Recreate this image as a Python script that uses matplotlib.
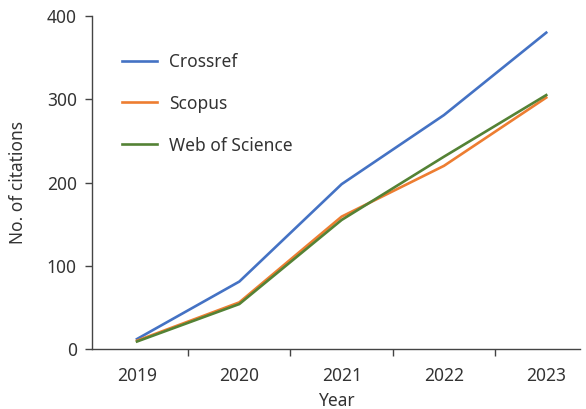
import matplotlib
matplotlib.use("Agg")
import matplotlib.pyplot as plt
from matplotlib.ticker import FixedLocator

years = ["2019", "2020", "2021", "2022", "2023"]
crossref = [12, 81, 198, 281, 380]
scopus = [10, 56, 159, 220, 302]
wos = [9, 54, 155, 231, 305]

plt.rcParams['font.family'] = ['Noto Sans', 'DejaVu Sans']
txt = '#333333'
fs = 12.5

fig = plt.figure(figsize=(5.86, 4.09), dpi=100)
ax = fig.add_axes([92/586, 60/409, (580-92)/586, (349-16)/409])

x = list(range(len(years)))
ax.plot(x, crossref, color='#4472C4', lw=1.9, label='Crossref')
ax.plot(x, scopus, color='#ED7D31', lw=1.9, label='Scopus')
ax.plot(x, wos, color='#548235', lw=1.9, label='Web of Science')

ax.set_xlim(-0.44, 4.33)
ax.set_ylim(0, 400)
ax.set_yticks([0, 100, 200, 300, 400])
ax.set_xticks(x)
ax.set_xticklabels(years)
ax.xaxis.set_minor_locator(FixedLocator([0.5, 1.5, 2.5, 3.5]))
ax.tick_params(axis='x', which='major', length=0, pad=13, labelsize=fs, colors=txt)
ax.tick_params(axis='x', which='minor', length=5, width=1, color='#444444')
ax.tick_params(axis='y', length=5, width=1, labelsize=fs, colors=txt, color='#444444', pad=6)
for s in ['top', 'right']:
    ax.spines[s].set_visible(False)
for s in ['left', 'bottom']:
    ax.spines[s].set_color('#444444')
    ax.spines[s].set_linewidth(1)

ax.set_xlabel('Year', fontsize=fs, color=txt, labelpad=5)
ax.set_ylabel('No. of citations', fontsize=fs, color=txt, labelpad=14)

leg = ax.legend(loc='upper left', bbox_to_anchor=(0.030, 0.937), frameon=False,
                fontsize=fs, handlelength=2.0, handletextpad=0.7, labelspacing=1.38,
                labelcolor=txt)

fig.savefig('out.png', dpi=100)
